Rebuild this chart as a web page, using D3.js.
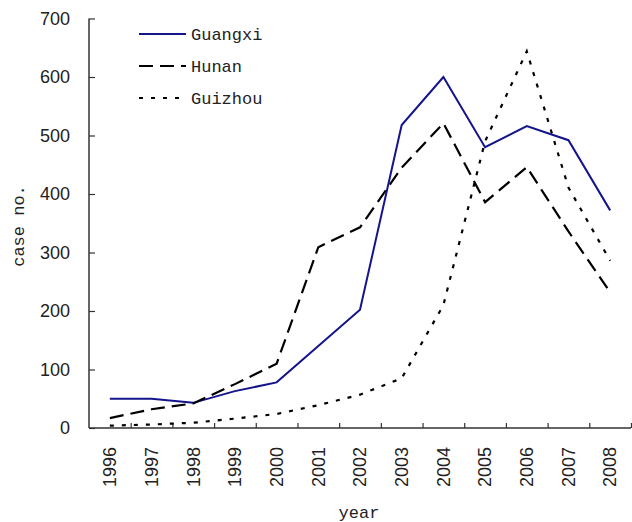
<!DOCTYPE html>
<html><head><meta charset="utf-8">
<script src="https://cdn.jsdelivr.net/npm/d3@7"></script>
<style>
html,body{margin:0;padding:0;background:#fff;}
svg{display:block;}
</style></head>
<body><svg id="c" width="632" height="522"></svg>
<script>
const years = ["1996","1997","1998","1999","2000","2001","2002","2003","2004","2005","2006","2007","2008"];
const guangxi = [50,50,43,63,78,140,202,518,600,480,516,492,372];
const hunan   = [17,32,42,75,110,309,343,445,521,386,446,336,232];
const guizhou = [4,6,9,16,24,39,57,85,210,490,644,411,286];
const yTicks = [0,100,200,300,400,500,600,700];
const seriesNames = ["Guangxi","Hunan","Guizhou"];

const svg = d3.select("#c");
const L = 89, R = 631, T = 18.5, B = 428;
const x = d3.scaleBand().domain(years).range([L, R]).padding(0);
const y = d3.scaleLinear().domain([0, 700]).range([B, T]);
const xb = d3.scaleLinear().domain([0, years.length]).range([L, R]);

const axisColor = "#333";
// Y axis
const ya = svg.append("g").attr("transform", `translate(${L},0)`)
  .call(d3.axisLeft(y).tickValues(yTicks).tickSize(-6).tickPadding(19).tickFormat(d3.format("d")));
ya.select(".domain").attr("stroke", axisColor).attr("stroke-width", 1.5).attr("d", `M0,${T}V${B}`);
ya.selectAll(".tick line").attr("stroke", axisColor).attr("stroke-width", 1.2);
ya.selectAll("text").attr("font-family", "Liberation Sans, Arial, sans-serif").attr("font-size", 18).attr("fill", "#222");

// X axis boundary ticks
const xt = svg.append("g").attr("transform", `translate(0,${B})`)
  .call(d3.axisBottom(xb).tickValues(d3.range(1, years.length + 1)).tickSize(-5).tickFormat(""));
xt.select(".domain").attr("stroke", axisColor).attr("stroke-width", 1.5).attr("d", `M${L},0H${R}`);
xt.selectAll(".tick line").attr("stroke", axisColor).attr("stroke-width", 1.2);

// X labels
const xl = svg.append("g").attr("transform", `translate(0,${B})`)
  .call(d3.axisBottom(x).tickSize(0).tickPadding(0));
xl.select(".domain").remove();
xl.selectAll("text")
  .attr("font-family", "Liberation Sans, Arial, sans-serif").attr("font-size", 18).attr("fill", "#222")
  .attr("transform", "rotate(-90)")
  .attr("text-anchor", "end").attr("x", -19).attr("y", 0).attr("dy", "0.35em");

// axis titles
svg.append("text").attr("x", 359).attr("y", 518).attr("text-anchor", "middle")
  .attr("font-family", "Liberation Mono, monospace").attr("font-size", 17).attr("fill", "#222").text("year");
svg.append("text").attr("transform", "translate(18,226) rotate(-90)").attr("text-anchor", "middle")
  .attr("dy", "0.35em")
  .attr("font-family", "Liberation Mono, monospace").attr("font-size", 17).attr("fill", "#222").text("case no.");

const styles = [
  {data: guangxi, color: "#14148c", dash: null, w: 2},
  {data: hunan, color: "#000", dash: "14,7", w: 2.2},
  {data: guizhou, color: "#000", dash: "4,8", w: 2.2}
];
const line = d3.line().x((d, i) => x(years[i]) + x.bandwidth() / 2).y(d => y(d));
styles.forEach(s => {
  svg.append("path").attr("d", line(s.data)).attr("fill", "none")
    .attr("stroke", s.color).attr("stroke-width", s.w)
    .attr("stroke-dasharray", s.dash).attr("stroke-linejoin", "miter");
});

// legend
const lg = svg.append("g");
seriesNames.forEach((n, i) => {
  const yy = 34 + i * 32;
  const s = styles[i];
  lg.append("line").attr("x1", 139).attr("x2", 186).attr("y1", yy).attr("y2", yy)
    .attr("stroke", s.color).attr("stroke-width", s.w).attr("stroke-dasharray", s.dash);
  lg.append("text").attr("x", 191).attr("y", yy).attr("dy", "0.35em")
    .attr("font-family", "Liberation Mono, monospace").attr("font-size", 17).attr("fill", "#222").text(n);
});
</script></body></html>
